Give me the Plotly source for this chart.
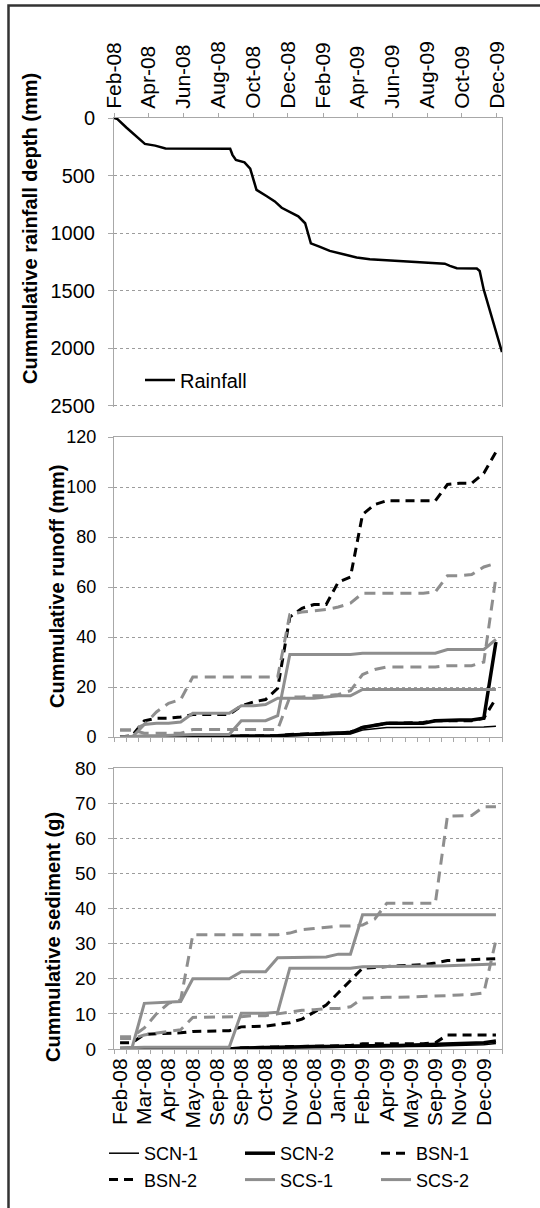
import plotly.graph_objects as go

# ---------------- data ----------------
rain_dates = ["2008-02-01", "2008-02-07", "2008-02-23", "2008-03-11", "2008-03-26", "2008-04-13",
              "2008-05-01", "2008-08-22", "2008-08-26", "2008-09-01", "2008-09-16", "2008-09-26",
              "2008-10-07", "2008-10-25", "2008-11-08", "2008-11-20", "2008-12-04", "2008-12-19",
              "2008-12-31", "2009-01-05", "2009-01-10", "2009-01-26", "2009-02-12", "2009-03-08",
              "2009-03-31", "2009-04-23", "2009-06-15", "2009-08-12", "2009-09-01", "2009-09-10",
              "2009-09-22", "2009-10-27", "2009-11-01", "2009-11-08", "2009-12-10"]
rainfall = [0, 10, 85, 160, 225, 240, 265, 268, 320, 365, 385, 440, 625, 680, 725, 780, 815, 855,
            915, 1000, 1090, 1120, 1155, 1185, 1212, 1228, 1243, 1262, 1266, 1285, 1306, 1309,
            1330, 1490, 2035]

n_events = 32
event_idx = list(range(n_events))
bottom_tick_labels = ["Feb-08", "Mar-08", "Apr-08", "May-08", "Sep-08", "Sep-08", "Oct-08", "Nov-08",
                      "Dec-08", "Jan-09", "Feb-09", "Apr-09", "May-09", "Sep-09", "Nov-09", "Dec-09"]

# cumulative runoff (mm)
run_scn1 = [0, 0, 0, 0, 0, 0, 0.2, 0.2, 0.2, 0.3, 0.3, 0.3, 0.3, 0.4, 0.5, 0.6, 0.8, 1, 1, 1.2,
            2.8, 3.2, 3.8, 3.8, 3.8, 3.8, 3.8, 3.8, 3.8, 3.8, 4, 4.3]
run_scn2 = [0, 0, 0, 0, 0, 0, 0.2, 0.2, 0.3, 0.3, 0.4, 0.4, 0.5, 0.5, 0.8, 1, 1.2, 1.3, 1.5, 1.8,
            3.8, 4.5, 5.5, 5.5, 5.5, 5.5, 6.5, 6.8, 6.8, 6.8, 7.5, 38]
run_bsn1 = [0, 0.5, 6.5, 7.5, 7.5, 8, 9, 9, 9, 9, 12.5, 14, 15, 19.5, 48, 51.5, 53, 53, 62, 64,
            89, 93, 94.5, 94.5, 94.5, 94.5, 94.5, 101, 101.5, 101.5, 105.5, 114]
run_bsn2 = [0, 0, 0, 0, 0, 0, 0.2, 0.2, 0.3, 0.3, 0.4, 0.4, 0.5, 0.5, 1, 1.2, 1.5, 1.5, 1.5, 2,
            3.8, 4.5, 5.5, 5.5, 5.5, 5.8, 6.5, 6.5, 6.5, 6.5, 7.5, 15.5]
run_scs1 = [0, 0, 5, 5.5, 5.5, 6, 9.5, 9.5, 9.5, 9.5, 12.5, 12.5, 13, 15.5, 15.5, 15.5, 15.5, 16,
            16.5, 16.5, 19, 19, 19, 19, 19, 19, 19, 19, 19, 19, 19, 19]
run_scs2 = [0, 0.3, 0.5, 0.5, 0.5, 0.8, 1, 1, 1, 1, 6.5, 6.5, 6.5, 8.5, 33, 33, 33, 33, 33, 33,
            33.5, 33.5, 33.5, 33.5, 33.5, 33.5, 33.5, 35, 35, 35, 35, 39]
run_sbs1 = [2.8, 2.8, 5, 10, 13.5, 15, 24, 24, 24, 24, 24, 24, 24, 24, 49, 50, 50.5, 51, 52, 53.5,
            57.5, 57.5, 57.5, 57.5, 57.5, 57.5, 58, 64.5, 64.5, 65, 68, 69.5]
run_sbs2 = [2.8, 2.8, 1.5, 1.5, 1.5, 1.5, 3, 3, 3, 3, 3, 3, 3, 3, 16, 16, 16.5, 16.5, 17, 18.5,
            25, 27, 28, 28, 28, 28, 28, 28.5, 28.5, 28.5, 30, 64]

# cumulative sediment (g)
sed_scn1 = [0, 0, 0, 0, 0, 0, 0, 0, 0, 0, 0.2, 0.2, 0.3, 0.3, 0.3, 0.4, 0.4, 0.4, 0.5, 0.5,
            0.6, 0.6, 0.6, 0.6, 0.7, 0.7, 0.8, 0.9, 1, 1, 1.2, 1.6]
sed_scn2 = [0, 0, 0, 0, 0, 0, 0, 0, 0, 0, 0.3, 0.4, 0.4, 0.5, 0.5, 0.6, 0.7, 0.7, 0.8, 0.9,
            1, 1, 1, 1, 1.1, 1.1, 1.3, 1.4, 1.5, 1.6, 1.8, 2.3]
sed_bsn1 = [1.8, 1.8, 4.2, 4.3, 4.5, 4.6, 5, 5, 5, 5.2, 6.3, 6.5, 6.5, 7, 7.5, 8.5, 10.5, 12.5,
            16, 19.5, 23, 23.2, 23.5, 23.7, 23.8, 24, 24.5, 25.2, 25.3, 25.5, 25.6, 25.7]
sed_bsn2 = [0, 0, 0, 0, 0, 0, 0, 0, 0, 0, 0.3, 0.5, 0.5, 0.6, 0.7, 0.8, 0.8, 0.9, 1, 1,
            1.5, 1.5, 1.5, 1.5, 1.5, 1.5, 1.8, 4, 4, 4, 4, 4]
sed_scs1 = [0.3, 0.5, 13, 13.2, 13.2, 13.5, 20, 20, 20, 20, 22, 22, 22, 26, 26, 26, 26, 26.2, 27,
            27, 38.2, 38.2, 38.2, 38.2, 38.2, 38.2, 38.2, 38.2, 38.2, 38.2, 38.2, 38.2]
sed_scs2 = [0.3, 0.5, 0.5, 0.5, 0.5, 0.5, 0.5, 0.5, 0.5, 0.5, 10.2, 10.2, 10.2, 10.5, 23, 23, 23,
            23, 23, 23, 23.4, 23.4, 23.5, 23.5, 23.5, 23.5, 23.6, 23.7, 23.8, 23.8, 23.9, 24.2]
sed_sbs1 = [3.5, 3.5, 6, 10, 13, 14, 32.5, 32.5, 32.5, 32.5, 32.5, 32.5, 32.5, 32.5, 33, 34, 34.3,
            34.7, 35, 35, 35.3, 37, 41.5, 41.5, 41.5, 41.5, 41.5, 66.3, 66.5, 66.5, 69, 69]
sed_sbs2 = [3, 3, 4, 4.5, 5, 5.5, 9, 9, 9, 9, 9.2, 9.5, 9.5, 10, 10.5, 11, 11.2, 11.5, 11.5, 12,
            14.5, 14.7, 14.7, 14.7, 14.8, 14.8, 15, 15.2, 15.4, 15.5, 16, 31]

# ---------------- styling ----------------
FONT = "Liberation Sans, Arial, sans-serif"
GRAY = "#8e8e8e"
AXC = "#a8a8a8"
GRID = "#9c9c9c"

W, H = 540, 1208
ML, MR, MT, MB = 114, 38, 118, 159
PW, PH = W - ML - MR, H - MT - MB


def px_x(p):
    return (p - ML) / PW


def px_y(p):
    return (H - MB - p) / PH


series_style = [
    ("SCN-1", dict(color="black", width=1.5), True),
    ("SCN-2", dict(color="black", width=3.5), True),
    ("BSN-1", dict(color="black", width=3, dash="9px,6px"), True),
    ("BSN-2", dict(color="black", width=3, dash="9px,6px"), True),
    ("SCS-1", dict(color=GRAY, width=3), True),
    ("SCS-2", dict(color=GRAY, width=3), True),
    ("SBS-1", dict(color=GRAY, width=3, dash="11px,7px"), False),
    ("SBS-2", dict(color=GRAY, width=3, dash="11px,7px"), False),
]
runoff = [run_scn1, run_scn2, run_bsn1, run_bsn2, run_scs1, run_scs2, run_sbs1, run_sbs2]
sediment = [sed_scn1, sed_scn2, sed_bsn1, sed_bsn2, sed_scs1, sed_scs2, sed_sbs1, sed_sbs2]

fig = go.Figure()
fig.add_trace(go.Scatter(x=rain_dates, y=rainfall, mode="lines", name="Rainfall",
                         line=dict(color="black", width=2.5), xaxis="x", yaxis="y",
                         legend="legend2"))

for (name, line, show), vals in zip(series_style, runoff):
    fig.add_trace(go.Scatter(x=event_idx, y=vals, mode="lines", name=name, line=line,
                             xaxis="x2", yaxis="y2", showlegend=show, legendgroup=name))
for (name, line, show), vals in zip(series_style, sediment):
    fig.add_trace(go.Scatter(x=event_idx, y=vals, mode="lines", name=name, line=line,
                             xaxis="x3", yaxis="y3", showlegend=False, legendgroup=name))


def ycommon(size, standoff):
    return dict(showline=True, linecolor=AXC, linewidth=1, mirror=True, ticks="outside",
                ticklen=5, tickcolor=AXC, showgrid=True, gridcolor=GRID, griddash="dot",
                gridwidth=1, zeroline=False, tickfont=dict(family=FONT, size=size, color="black"),
                ticklabelstandoff=standoff)


boundaries = [i - 0.5 for i in range(n_events + 1)]

fig.update_layout(
    width=W, height=H,
    margin=dict(l=ML, r=MR, t=MT, b=MB, autoexpand=False),
    paper_bgcolor="white", plot_bgcolor="white",
    font=dict(family=FONT, color="black"),
    xaxis=dict(domain=[0, 1], anchor="y", side="top", type="date",
               range=["2008-02-01", "2009-12-10"], tick0="2008-02-01", dtick="M2",
               tickformat="%b-%y", tickangle=-90, ticks="outside", ticklen=4, tickcolor=AXC,
               showline=True, linecolor=AXC, mirror=False, showgrid=False,
               tickfont=dict(family=FONT, size=21, color="black")),
    yaxis=dict(domain=[px_y(407), 1], anchor="x", range=[2512, 0], tick0=0, dtick=500,
               **ycommon(20, 9)),
    xaxis2=dict(domain=[0, 1], anchor="y2", range=[-0.5, n_events - 0.5], showticklabels=False,
                tickmode="array", tickvals=boundaries, ticks="outside", ticklen=4, tickcolor=AXC,
                showline=True, linecolor=AXC, mirror=True, showgrid=False, zeroline=False),
    yaxis2=dict(domain=[px_y(737), px_y(437)], anchor="x2", range=[0, 120], dtick=20,
                **ycommon(18, 8)),
    xaxis3=dict(domain=[0, 1], anchor="y3", range=[-0.5, n_events - 0.5],
                tickmode="array", tickvals=event_idx[::2], ticktext=bottom_tick_labels,
                tickangle=-90, ticks="", showline=True, linecolor=AXC, mirror=True,
                showgrid=False, zeroline=False,
                tickfont=dict(family=FONT, size=21, color="black"),
                minor=dict(tickmode="array", tickvals=boundaries, ticks="outside", ticklen=4,
                           tickcolor=AXC, showgrid=False)),
    yaxis3=dict(domain=[0, px_y(768)], anchor="x3", range=[0, 80], dtick=10,
                **ycommon(19, 8)),
    legend=dict(orientation="h", x=px_x(104), xanchor="left", y=px_y(1135), yanchor="top",
                entrywidth=91, entrywidthmode="pixels", font=dict(family=FONT, size=18),
                bgcolor="rgba(0,0,0,0)", traceorder="normal", tracegroupgap=0),
    legend2=dict(x=px_x(140), xanchor="left", y=px_y(380), yanchor="middle",
                 font=dict(family=FONT, size=20), bgcolor="rgba(0,0,0,0)"),
    showlegend=True,
)

title_font = dict(family=FONT, size=20, color="black")
for text, xp, yp in [("<b>Cummulative rainfall depth (mm)</b>", 30, 229),
                     ("<b>Cummulative runoff (mm)</b>", 57, 587),
                     ("<b>Cummulative sediment (g)</b>", 53, 937)]:
    fig.add_annotation(text=text, xref="paper", yref="paper", x=px_x(xp), y=px_y(yp),
                       textangle=-90, showarrow=False, xanchor="center", yanchor="middle",
                       font=title_font)

# outer frame
fig.add_shape(type="rect", xref="paper", yref="paper", x0=px_x(8.5), x1=px_x(620),
              y0=px_y(1300), y1=px_y(5.5), line=dict(color="#333333", width=2.5),
              fillcolor="rgba(0,0,0,0)", layer="above")

fig.write_html("out.html")
